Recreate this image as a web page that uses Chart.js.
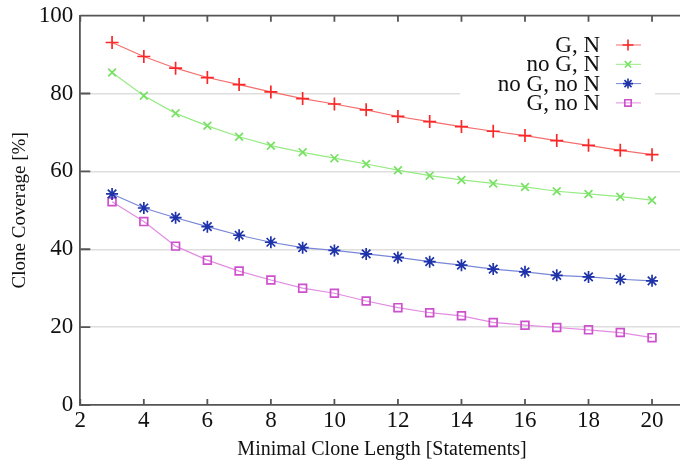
<!DOCTYPE html>
<html>
<head>
<meta charset="utf-8">
<script src="https://cdn.jsdelivr.net/npm/chart.js@4.4.1/dist/chart.umd.min.js"></script>
<style>
    html, body { margin: 0; padding: 0; background: #fff; overflow: hidden; }
    #wrap { width: 692px; height: 463px; }
</style>
</head>
<body>
<div id="wrap"><canvas id="myChart" width="692" height="463"></canvas></div>
<script>
// statement lengths on the x axis
const lengths = [3, 4, 5, 6, 7, 8, 9, 10, 11, 12, 13, 14, 15, 16, 17, 18, 19, 20];

// clone coverage [%] per setting
const gN = [93.1, 89.5, 86.5, 84.1, 82.3, 80.4, 78.7, 77.3, 75.8, 74.1, 72.8, 71.5, 70.3, 69.2, 67.9, 66.7, 65.4, 64.3];
const noGN = [85.4, 79.4, 74.9, 71.7, 68.9, 66.6, 64.9, 63.4, 61.9, 60.3, 58.9, 57.8, 56.9, 56.0, 54.9, 54.2, 53.5, 52.6];
const noGnoN = [54.2, 50.6, 48.1, 45.8, 43.6, 41.8, 40.4, 39.7, 38.8, 37.9, 36.8, 35.9, 34.9, 34.2, 33.3, 32.9, 32.3, 31.9];
const gNoN = [52.2, 47.1, 40.8, 37.2, 34.4, 32.1, 30.0, 28.7, 26.7, 25.0, 23.7, 22.9, 21.2, 20.5, 19.9, 19.3, 18.6, 17.3];

const labels = ['G, N', 'no G, N', 'no G, no N', 'G, no N'];
const xTicks = [2, 4, 6, 8, 10, 12, 14, 16, 18, 20];
const yTicks = [0, 20, 40, 60, 80, 100];

const serif = '"Liberation Serif", "DejaVu Serif", serif';

function pts(arr) {
    return arr.map((v, i) => ({ x: lengths[i], y: v }))
}

const series = [
    { label: labels[0], data: pts(gN), line: 'rgb(245,110,110)', mark: 'rgb(250,40,40)', style: 'cross', r: 6.5 },
    { label: labels[1], data: pts(noGN), line: 'rgb(150,235,130)', mark: 'rgb(120,225,100)', style: 'crossRot', r: 5.5 },
    { label: labels[2], data: pts(noGnoN), line: 'rgb(120,135,215)', mark: 'rgb(30,50,170)', style: 'star', r: 6 },
    { label: labels[3], data: pts(gNoN), line: 'rgb(225,140,225)', mark: 'rgb(205,80,205)', style: 'rect', r: 5.5 },
];

// inward ticks, top frame line and the boxed legend
const framePlugin = {
    id: 'frame',
    afterDraw(chart) {
        const ctx = chart.ctx, a = chart.chartArea;
        const xs = chart.scales.x, ys = chart.scales.y;
        ctx.save();
        ctx.strokeStyle = '#555';
        ctx.lineWidth = 1.8;
        ctx.beginPath();
        ctx.moveTo(a.left, a.top);
        ctx.lineTo(a.right, a.top);
        xTicks.forEach(v => {
            const px = xs.getPixelForValue(v);
            ctx.moveTo(px, a.bottom);
            ctx.lineTo(px, a.bottom - 6);
            ctx.moveTo(px, a.top);
            ctx.lineTo(px, a.top + 6);
        });
        yTicks.forEach(v => {
            const py = ys.getPixelForValue(v);
            ctx.moveTo(a.left, py);
            ctx.lineTo(a.left + 10, py);
        });
        ctx.stroke();

        // legend
        ctx.fillStyle = '#fff';
        ctx.fillRect(460, 30, 195, 82);
        ctx.font = '23px ' + serif;
        ctx.textAlign = 'right';
        ctx.textBaseline = 'middle';
        series.forEach((s, i) => {
            const y = 45 + i * 19.3;
            ctx.fillStyle = '#111';
            ctx.fillText(s.label, 600, y + 1);
            ctx.strokeStyle = s.line;
            ctx.lineWidth = 1;
            ctx.beginPath();
            ctx.moveTo(616, y);
            ctx.lineTo(641, y);
            ctx.stroke();
            ctx.strokeStyle = s.mark;
            ctx.fillStyle = 'rgba(0,0,0,0)';
            ctx.lineWidth = 1.6;
            Chart.helpers.drawPoint(ctx, {
                pointStyle: s.style, radius: s.r - 1, rotation: 0,
                borderWidth: 1.6
            }, 628, y);
        });
        ctx.restore();
    }
};

const data = {
    datasets: series.map(s => ({
        label: s.label,
        data: s.data,
        borderColor: s.line,
        borderWidth: 1.2,
        pointStyle: s.style,
        pointRadius: s.r,
        pointBorderColor: s.mark,
        pointBackgroundColor: 'rgba(0,0,0,0)',
        pointBorderWidth: 1.7,
        tension: 0,
    }))
};

const config = {
    type: 'line',
    data: data,
    options: {
        responsive: false,
        animation: false,
        layout: { padding: { left: 5, top: 0, right: 0, bottom: 3 } },
        plugins: {
            legend: { display: false },
            tooltip: { enabled: false },
        },
        scales: {
            x: {
                type: 'linear',
                min: 2,
                max: 21,
                afterBuildTicks: (scale) => {
                    scale.ticks = xTicks.map(v => ({ value: v }))
                },
                grid: { display: false, drawTicks: false },
                border: { color: '#555', width: 1.8 },
                ticks: { color: '#111', padding: 4, maxRotation: 0, font: { family: serif, size: 23, lineHeight: 1 } },
                title: { display: true, text: 'Minimal Clone Length [Statements]', color: '#111', padding: { top: 4, bottom: 0 }, font: { family: serif, size: 20, lineHeight: 1 } },
            },
            y: {
                min: 0,
                max: 100,
                afterBuildTicks: (scale) => {
                    scale.ticks = yTicks.map(v => ({ value: v }))
                },
                grid: {
                    drawTicks: false,
                    color: (c) => (c.tick && (c.tick.value === 0 || c.tick.value === 100)) ? 'rgba(0,0,0,0)' : '#dedede',
                    lineWidth: 1.5,
                },
                border: { color: '#555', width: 1.8 },
                ticks: { color: '#111', padding: 7, font: { family: serif, size: 23, lineHeight: 0.75 } },
                title: { display: true, text: 'Clone Coverage [%]', color: '#111', padding: { top: 4, bottom: 0 }, font: { family: serif, size: 19 } },
            }
        }
    },
    plugins: [framePlugin]
};

let myChart = new Chart(document.querySelector('#myChart'), config);
</script>
</body>
</html>
